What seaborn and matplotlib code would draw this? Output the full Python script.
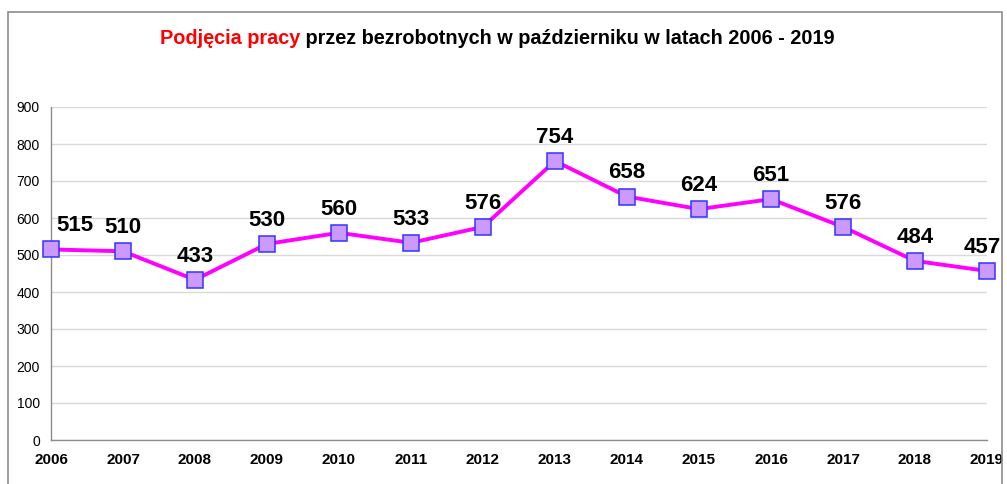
import matplotlib
matplotlib.use("Agg")
import matplotlib.pyplot as plt
import seaborn as sns
import pandas as pd
from matplotlib.patches import Rectangle

years = [2006, 2007, 2008, 2009, 2010, 2011, 2012, 2013, 2014, 2015, 2016, 2017, 2018, 2019]
values = [515, 510, 433, 530, 560, 533, 576, 754, 658, 624, 651, 576, 484, 457]
title_red = "Podjęcia pracy"
title_rest = " przez bezrobotnych w październiku w latach 2006 - 2019"

sns.set_theme(style="white")
plt.rcParams['font.family'] = ['Liberation Sans', 'DejaVu Sans']

df = pd.DataFrame({"rok": years, "liczba": values})

fig = plt.figure(figsize=(10.07, 4.84), dpi=100)
ax = fig.add_axes([51 / 1007, 1 - 440 / 484, (987 - 51) / 1007, (440 - 107) / 484])

# ramka wokół wykresu
fig.patches.append(Rectangle((8 / 1007, -0.1), (1002 - 8) / 1007, 1.1 - 12 / 484,
                             transform=fig.transFigure, fill=False,
                             edgecolor='#8c8c8c', linewidth=1.2, zorder=0))

sns.lineplot(data=df, x="rok", y="liczba", ax=ax, color='#FF00FF', linewidth=2.8,
             marker='s', markersize=11.5, markerfacecolor='#CC99FF',
             markeredgecolor='#3333FF', markeredgewidth=1.1, clip_on=False, zorder=5)

for i, (x, y) in enumerate(zip(years, values)):
    dx = 17 if i == 0 else (-3.5 if i == len(years) - 1 else 0)
    ax.annotate(str(y), (x, y), xytext=(dx, 9.5), textcoords='offset points',
                ha='center', va='bottom', fontsize=16, fontweight='bold',
                color='black', zorder=6)

ax.set_xlim(2006, 2019)
ax.set_ylim(0, 900)
ax.set_xticks(years)
ax.set_xticklabels([str(y) for y in years], fontsize=11, fontweight='bold')
ax.set_yticks(range(0, 901, 100))
ax.set_yticklabels([str(v) for v in range(0, 901, 100)], fontsize=10)
ax.set_xlabel("")
ax.set_ylabel("")
ax.grid(axis='y', color='#d9d9d9', linewidth=1)
ax.set_axisbelow(True)
for s in ['top', 'right']:
    ax.spines[s].set_visible(False)
for s in ['left', 'bottom']:
    ax.spines[s].set_color('#8c8c8c')
    ax.spines[s].set_linewidth(1)
ax.tick_params(axis='both', which='both', direction='out', length=4, width=1,
               color='#8c8c8c', labelcolor='black', pad=4)
ax.tick_params(axis='x', pad=5)

# tytuł dwukolorowy
fig.canvas.draw()
renderer = fig.canvas.get_renderer()
t1 = fig.text(0, 1 - 38 / 484, title_red, color='#FF0000', fontsize=14.3, fontweight='bold',
              va='center', ha='left')
t2 = fig.text(0, 1 - 38 / 484, title_rest, color='black', fontsize=14.3, fontweight='bold',
              va='center', ha='left')
w1 = t1.get_window_extent(renderer).width
w2 = t2.get_window_extent(renderer).width
x0 = 497 - (w1 + w2) / 2
t1.set_x(x0 / 1007)
t2.set_x((x0 + w1) / 1007)

plt.savefig("out.png", dpi=100)
